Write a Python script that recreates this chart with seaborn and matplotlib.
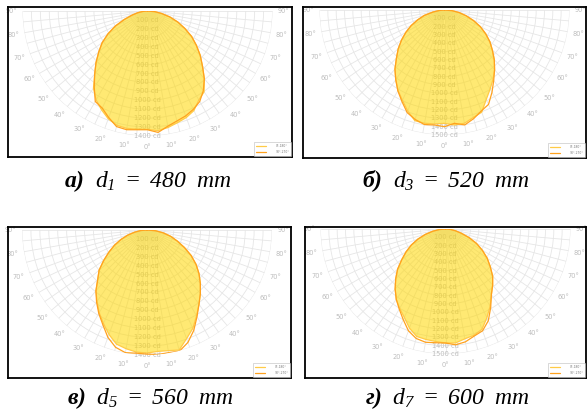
import numpy as np
import matplotlib
matplotlib.use("Agg")
import matplotlib.pyplot as plt
from matplotlib.lines import Line2D
import seaborn as sns

# angles (deg), 0 = straight down, negative = left half
angles = list(range(-90, 91, 5))

# luminous intensity, cd  (C0-180 plane / C90-270 plane)
a_c0 = [0, 50, 110, 180, 275, 395, 510, 620, 712, 815, 920, 1055, 1150, 1220, 1285, 1325, 1335, 1328, 1325,
        1345, 1325, 1295, 1270, 1230, 1150, 1105, 990, 870, 770, 667, 570, 460, 360, 260, 160, 80, 0]
a_c90 = [0, 50, 110, 180, 275, 395, 510, 620, 712, 815, 920, 1040, 1170, 1200, 1270, 1340, 1350, 1335, 1330,
         1365, 1310, 1275, 1250, 1215, 1170, 1090, 990, 870, 770, 667, 570, 460, 360, 260, 160, 80, 0]

b_c0 = [0, 60, 140, 250, 340, 440, 535, 630, 725, 815, 925, 1020, 1115, 1195, 1290, 1375, 1380, 1372, 1360,
        1385, 1380, 1335, 1305, 1185, 1095, 1015, 935, 845, 750, 665, 570, 475, 370, 270, 180, 90, 0]
b_c90 = [0, 60, 140, 250, 340, 440, 535, 630, 725, 815, 925, 1020, 1120, 1210, 1310, 1360, 1395, 1385, 1400,
         1365, 1400, 1350, 1290, 1250, 1140, 1030, 935, 845, 750, 665, 570, 475, 370, 270, 180, 90, 0]

c_c0 = [0, 70, 140, 225, 310, 400, 490, 590, 700, 780, 890, 975, 1070, 1155, 1245, 1323, 1350, 1372, 1378,
        1365, 1372, 1392, 1295, 1215, 1110, 1015, 930, 845, 760, 670, 570, 460, 360, 275, 185, 95, 0]
c_c90 = [0, 70, 140, 225, 310, 400, 490, 590, 700, 780, 890, 985, 1080, 1170, 1280, 1360, 1395, 1385, 1390,
         1400, 1395, 1405, 1340, 1240, 1120, 1015, 930, 845, 760, 670, 570, 460, 360, 275, 185, 95, 0]

d_c0 = [0, 75, 155, 250, 350, 450, 545, 640, 750, 845, 940, 1030, 1100, 1170, 1265, 1335, 1346, 1355, 1368,
        1373, 1338, 1320, 1280, 1175, 1070, 960, 880, 800, 700, 610, 510, 410, 300, 195, 120, 60, 0]
d_c90 = [0, 75, 155, 250, 350, 450, 545, 640, 750, 845, 940, 1030, 1110, 1200, 1300, 1360, 1380, 1370, 1368,
         1395, 1375, 1330, 1300, 1215, 1085, 960, 880, 800, 700, 610, 510, 410, 300, 195, 120, 60, 0]

captions = [r"$\mathbf{а)}\ \ d_1\ =\ 480\ \ mm$", r"$\mathbf{б)}\ \ d_3\ =\ 520\ \ mm$",
            r"$\mathbf{в)}\ \ d_5\ =\ 560\ \ mm$", r"$\mathbf{г)}\ \ d_7\ =\ 600\ \ mm$"]
r_max = [1400, 1500, 1400, 1500]
legend_labels = ["0°-180°", "90°-270°"]

sns.set_theme(style="white")
plt.rcParams['font.family'] = ['DejaVu Sans']
plt.rcParams['mathtext.fontset'] = 'custom'
plt.rcParams['mathtext.rm'] = 'Liberation Serif:italic'
plt.rcParams['mathtext.it'] = 'Liberation Serif:italic'
plt.rcParams['mathtext.bf'] = 'Liberation Serif:italic:bold'

W, H = 587, 412
fig = plt.figure(figsize=(W / 100, H / 100), dpi=100)
fig.patch.set_facecolor('white')


def px_rect(x0, y0, x1, y1):
    return [x0 / W, 1 - y1 / H, (x1 - x0) / W, (y1 - y0) / H]


# frame box (px), polar centre (px), caption position (px)
panels = [
    dict(frame=(8, 7, 292, 157), centre=(147.5, 11), cap=(148, 181), data=(a_c0, a_c90)),
    dict(frame=(303, 7, 586, 158), centre=(444.5, 10), cap=(446, 181), data=(b_c0, b_c90)),
    dict(frame=(8, 227, 291, 378), centre=(147, 230), cap=(150, 398), data=(c_c0, c_c90)),
    dict(frame=(305, 227, 586, 378), centre=(445.5, 229), cap=(447, 398), data=(d_c0, d_c90)),
]
R = 125
col0 = '#FFCB47'
col90 = '#FFA21F'
grid_col = '#e6e6e6'
lab_col = '#bdbdbd'

theta = np.radians(angles)
for i, p in enumerate(panels):
    cx, cy = p['centre']
    # half-disc sits centred in a square box: top of box = centre - R/2
    ax = fig.add_axes(px_rect(cx - R, cy - R / 2, cx + R, cy + 1.5 * R), projection='polar')
    ax.set_theta_zero_location('S')
    ax.set_thetamin(-90)
    ax.set_thetamax(90)
    ax.set_rlim(0, r_max[i])
    ax.set_facecolor('none')
    for s in ax.spines.values():
        s.set_color('none')
        s.set_linewidth(0)
    ax.set_axisbelow(True)
    ax.grid(True, color=grid_col, lw=0.6)

    ax.set_xticks(np.radians(angles))
    ax.set_xticklabels([f"{abs(a)}°" if a % 10 == 0 else "" for a in angles])
    ax.tick_params(axis='x', colors=lab_col, labelsize=4.8, pad=1.2, length=0)
    ax.tick_params(axis='y', length=0)
    rt = list(range(100, r_max[i] + 1, 100))
    ax.set_yticks(rt)
    ax.set_yticklabels([])
    for r in rt:
        ax.text(0, r, f"{r} cd", ha='center', va='center', fontsize=4.8, color=lab_col, zorder=0.8)

    c0, c90 = p['data']
    ax.fill(theta, c0, color='#FFD700', alpha=0.55, lw=0, zorder=1)
    sns.lineplot(x=theta, y=c0, ax=ax, sort=False, color=col0, lw=0.9, zorder=2)
    sns.lineplot(x=theta, y=c90, ax=ax, sort=False, color=col90, lw=0.9, zorder=2)
    ax.set_xlabel('')
    ax.set_ylabel('')

    # frame with legend on top
    fx = fig.add_axes(px_rect(*p['frame']))
    fx.set_zorder(5)
    fx.set_facecolor('none')
    fx.set_xticks([])
    fx.set_yticks([])
    for s in fx.spines.values():
        s.set_color('black')
        s.set_linewidth(1.3)
    handles = [Line2D([], [], color=col0, lw=0.9), Line2D([], [], color=col90, lw=0.9)]
    leg = fx.legend(handles, legend_labels, loc='lower right', fontsize=2.2, frameon=True,
                    handlelength=3.5, borderpad=0.6, labelspacing=0.8, handletextpad=3,
                    borderaxespad=0.3, fancybox=False)
    leg.get_frame().set_edgecolor('#bbbbbb')
    leg.get_frame().set_linewidth(0.5)
    for t in leg.get_texts():
        t.set_color('#777777')

    fig.text(p['cap'][0] / W, 1 - p['cap'][1] / H, captions[i], ha='center', va='center',
             fontsize=17, color='black')

fig.savefig('out.png', dpi=100)
